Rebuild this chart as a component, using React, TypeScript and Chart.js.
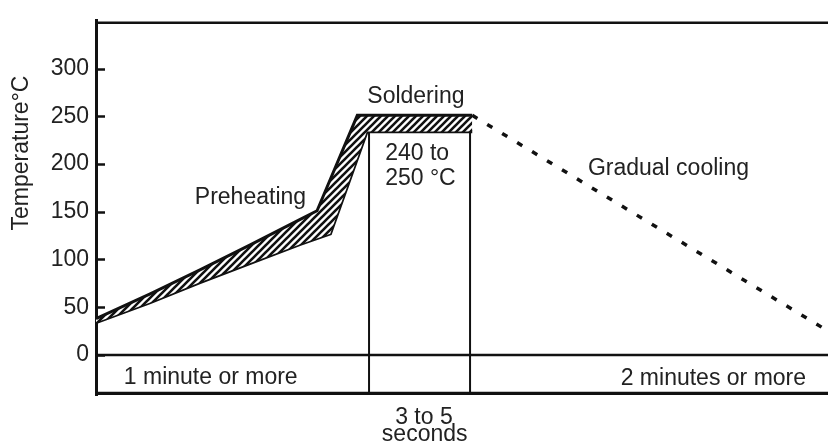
import React, { useEffect, useRef } from "react";
import { Chart, registerables } from "chart.js";

Chart.register(...registerables);

// Schematic time axis: 0 = start of preheating, 100 = right edge of the diagram
const UPPER_X = [0, 7.4, 14.2, 21.0, 27.9, 30.2, 35.7, 51.4];
const UPPER_Y = [38, 64, 89, 115, 142, 151, 251, 251];
const LOWER_X = [0, 7.4, 14.2, 21.0, 27.9, 32.0, 37.0, 51.4];
const LOWER_Y = [34, 55, 76, 96, 116, 127, 234, 234];
const COOL_X = [51.4, 100];
const COOL_Y = [251, 25];
const WINDOW_X = [37.3, 51.1]; // edges of the "3 to 5 seconds" window
const WINDOW_TOP = 234;
const ROW_TOP = 0;
const ROW_BOTTOM = -40.5;
const FRAME_TOP = 348;
const Y_TICKS = [0, 50, 100, 150, 200, 250, 300];
const Y_MIN = -42;
const Y_MAX = 350;
const X_MIN = 0;
const X_MAX = 100;

const LABEL_TEXT = [
  "Soldering",
  "240 to",
  "250 °C",
  "Preheating",
  "Gradual cooling",
  "1 minute or more",
  "2 minutes or more",
  "3 to 5",
  "seconds",
];
const LABEL_X = [43.7, 39.5, 39.5, 13.5, 67.2, 3.8, 97.0, 44.8, 44.9];
const LABEL_Y = [264, 204.3, 177.6, 158.1, 188.9, -30.9, -31.9, -72.9, -90.3];
const LABEL_ALIGN = ["center", "left", "left", "left", "left", "left", "right", "center", "center"];
const Y_TITLE = "Temperature°C";
const Y_TITLE_VALUE = 211.5;

const FONT = "'Liberation Sans', Arial, Helvetica, sans-serif";
const INK = "#111111";
const TEXT = "#222222";

const pts = (xs: number[], ys: number[]) => xs.map((x, i) => ({ x, y: ys[i] }));

function makeHatch(): CanvasPattern | string {
  const c = document.createElement("canvas");
  c.width = 7;
  c.height = 7;
  const g = c.getContext("2d");
  if (!g) return "#555";
  g.fillStyle = "#ffffff";
  g.fillRect(0, 0, 7, 7);
  g.strokeStyle = INK;
  g.lineWidth = 2.6;
  g.lineCap = "square";
  const segs = [
    [-7, 7, 7, -7],
    [0, 7, 7, 0],
    [0, 14, 14, 0],
  ];
  for (const s of segs) {
    g.beginPath();
    g.moveTo(s[0], s[1]);
    g.lineTo(s[2], s[3]);
    g.stroke();
  }
  const p = g.createPattern(c, "repeat");
  return p || "#555";
}

const decorPlugin = {
  id: "decor",
  afterDatasetsDraw(chart: any) {
    const { ctx, chartArea, scales } = chart;
    const x = scales.x;
    const y = scales.y;
    ctx.save();
    // inward tick marks on the temperature axis
    ctx.strokeStyle = INK;
    ctx.lineWidth = 2.5;
    Y_TICKS.forEach((v) => {
      const py = Math.round(y.getPixelForValue(v)) + 0.5;
      ctx.beginPath();
      ctx.moveTo(chartArea.left, py);
      ctx.lineTo(chartArea.left + 9, py);
      ctx.stroke();
    });
    // text annotations
    ctx.fillStyle = TEXT;
    ctx.font = `23px ${FONT}`;
    ctx.textBaseline = "alphabetic";
    LABEL_TEXT.forEach((t, i) => {
      ctx.textAlign = LABEL_ALIGN[i];
      ctx.fillText(t, x.getPixelForValue(LABEL_X[i]), y.getPixelForValue(LABEL_Y[i]));
    });
    // vertical axis title
    ctx.translate(y.left + 28, y.getPixelForValue(Y_TITLE_VALUE));
    ctx.rotate(-Math.PI / 2);
    ctx.textAlign = "center";
    ctx.fillText(Y_TITLE, 0, 0);
    ctx.restore();
  },
};

export default function App() {
  const ref = useRef<HTMLCanvasElement | null>(null);

  useEffect(() => {
    if (!ref.current) return;
    const hatch = makeHatch();
    const line = (data: any[], width: number, extra: any = {}) => ({
      data,
      borderColor: INK,
      borderWidth: width,
      pointRadius: 0,
      tension: 0,
      fill: false,
      borderCapStyle: "butt",
      borderJoinStyle: "miter",
      ...extra,
    });
    const chart = new Chart(ref.current, {
      type: "line",
      data: {
        datasets: [
          line(pts(UPPER_X, UPPER_Y), 3, { fill: "+1", backgroundColor: hatch }),
          line(pts(LOWER_X, LOWER_Y), 3.5),
          line(pts(COOL_X, COOL_Y), 3.5, { borderDash: [6, 11.5] }),
          line(pts([WINDOW_X[0], WINDOW_X[0]], [WINDOW_TOP, ROW_BOTTOM]), 2),
          line(pts([WINDOW_X[1], WINDOW_X[1]], [WINDOW_TOP, ROW_BOTTOM]), 2),
          line(pts([X_MIN, X_MAX], [ROW_TOP, ROW_TOP]), 2.5),
          line(pts([X_MIN, X_MAX], [ROW_BOTTOM, ROW_BOTTOM]), 3.5),
          line(pts([X_MIN, X_MAX], [FRAME_TOP, FRAME_TOP]), 2.5),
        ] as any,
      },
      options: {
        animation: false,
        responsive: true,
        maintainAspectRatio: false,
        devicePixelRatio: 1,
        events: [],
        layout: { padding: { top: 13, bottom: 51, left: 0, right: 0 } },
        plugins: {
          legend: { display: false },
          tooltip: { enabled: false },
          title: { display: false },
        },
        scales: {
          x: { type: "linear", min: X_MIN, max: X_MAX, display: false },
          y: {
            type: "linear",
            min: Y_MIN,
            max: Y_MAX,
            afterBuildTicks: (s: any) => {
              s.ticks = Y_TICKS.map((v) => ({ value: v }));
            },
            afterFit: (s: any) => {
              s.width = 96;
            },
            grid: { display: false, drawTicks: false },
            border: { display: true, color: INK, width: 3 },
            ticks: {
              color: TEXT,
              padding: 7,
              autoSkip: false,
              font: { family: FONT, size: 23 },
            },
          },
        },
      } as any,
      plugins: [decorPlugin],
    });
    return () => chart.destroy();
  }, []);

  return (
    <div
      style={{
        position: "fixed",
        left: 0,
        top: 0,
        width: 828,
        height: 446,
        background: "#ffffff",
      }}
    >
      <canvas ref={ref} />
    </div>
  );
}
